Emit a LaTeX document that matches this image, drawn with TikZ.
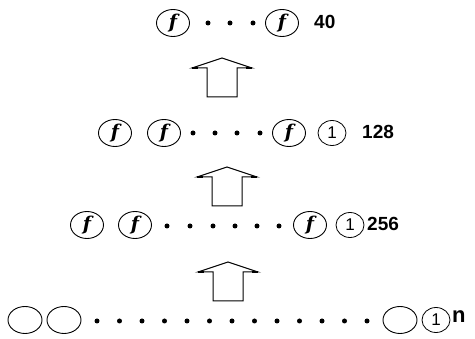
\documentclass[tikz,border=0pt]{standalone}
\usepackage{fontspec}
\setmainfont{Liberation Sans}
\newfontfamily\fnfont{DejaVu Serif}
\usetikzlibrary{shapes.geometric}
\begin{document}
\begin{tikzpicture}[x=1pt,y=-1pt,
  fcirc/.style={ellipse,draw,line width=0.9pt,minimum width=33pt,minimum height=27pt,
    inner sep=0pt,font=\fnfont\bfseries\itshape\fontsize{19}{19}\selectfont},
  ecirc/.style={ellipse,draw,line width=0.9pt,minimum width=34pt,minimum height=27pt,inner sep=0pt},
  onecirc/.style={ellipse,draw,line width=0.8pt,minimum width=28pt,minimum height=25pt,
    inner sep=0pt,font=\fontsize{17}{17}\selectfont},
  dot/.style={circle,fill,inner sep=0pt,minimum size=5pt},
  count/.style={anchor=west,inner sep=0pt,font=\bfseries\fontsize{19}{19}\selectfont},
  blockarrow/.style={draw,line width=1pt,line join=miter}]
\useasboundingbox (0,0) rectangle (475,339);

% top layer: 40 units
\node[fcirc] (a1) at (173,23) {f};
\foreach \x [count=\i] in {208,230,253} \node[dot] (ad\i) at (\x,23) {};
\node[fcirc] (a2) at (282,23) {f};
\node[count] (a40) at (314,22) {40};

% second layer: 128 units
\node[fcirc] (b1) at (115,133) {f};
\node[fcirc] (b2) at (164,133) {f};
\foreach \x [count=\i] in {193,215,237,260} \node[dot] (bd\i) at (\x,133) {};
\node[fcirc] (b3) at (289,133) {f};
\node[onecirc] (b4) at (332,133) {1};
\node[count] (b128) at (362,132) {128};

% third layer: 256 units
\node[fcirc] (c1) at (87,225) {f};
\node[fcirc] (c2) at (135,225) {f};
\foreach \x [count=\i] in {167,190,213,235,257,279} \node[dot] (cd\i) at (\x,226) {};
\node[fcirc] (c3) at (310,225) {f};
\node[onecirc] (c4) at (350,225) {1};
\node[count] (c256) at (367,224) {256};

% input layer: n units
\node[ecirc] (d1) at (25,320) {};
\node[ecirc] (d2) at (64,320) {};
\foreach \i in {0,...,12} \node[dot] (dd\i) at (97+22.5*\i,321) {};
\node[ecirc] (d3) at (400,320) {};
\node[onecirc] (d4) at (436,320) {1};
\node[anchor=west,inner sep=0pt,font=\bfseries\fontsize{22}{22}\selectfont] (dn) at (452,317) {n};

% upward block arrows between layers
\foreach \cx/\ay in {222/58,227/167,228/262}{
  \draw[blockarrow] (\cx-15,\ay+39) -- (\cx-15,\ay+10) -- (\cx-30,\ay+10) -- (\cx,\ay)
    -- (\cx+30,\ay+10) -- (\cx+15,\ay+10) -- (\cx+15,\ay+39) -- cycle;
  \draw[line width=2pt] (\cx-30,\ay+10) -- (\cx-24,\ay+10) (\cx+24,\ay+10) -- (\cx+30,\ay+10);
}
\end{tikzpicture}
\end{document}
